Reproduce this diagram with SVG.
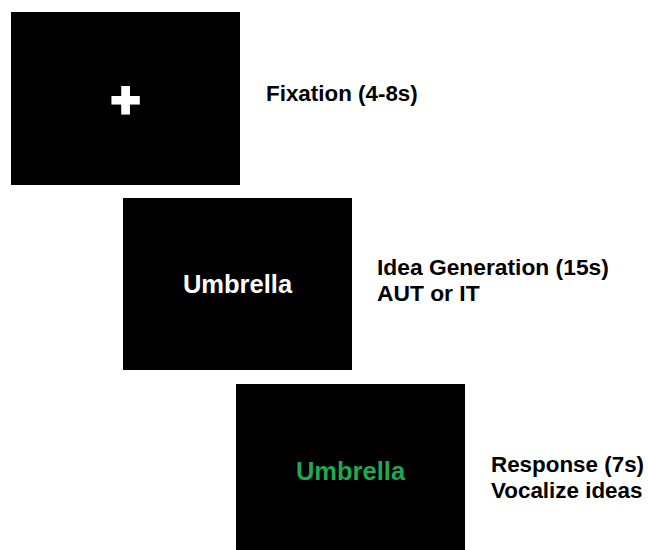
<svg xmlns="http://www.w3.org/2000/svg" width="648" height="550" viewBox="0 0 648 550">
  <style>
    .screen { fill: #000000; }
    .label { font-family: "Liberation Sans", Arial, sans-serif; font-weight: bold; font-size: 22.4px; fill: #000000; }
    .label-wide { font-size: 22.8px; }
    .word { font-family: "Liberation Sans", Arial, sans-serif; font-weight: bold; font-size: 25.5px; text-anchor: middle; }
  </style>
  <rect width="648" height="550" fill="#ffffff"/>

  <!-- Screen 1: fixation cross -->
  <g id="fixation">
    <rect class="screen" x="11" y="12" width="229" height="173"/>
    <text x="125.5" y="117.4" font-family="Liberation Sans, Arial, sans-serif" font-weight="bold" font-size="50" text-anchor="middle" fill="#ffffff" stroke="#ffffff" stroke-width="3.2">+</text>
    <text class="label" x="266" y="100.5">Fixation (4-8s)</text>
  </g>

  <!-- Screen 2: idea generation -->
  <g id="idea-generation">
    <rect class="screen" x="123" y="198" width="229" height="172"/>
    <text class="word" x="237.5" y="293" fill="#ffffff">Umbrella</text>
    <text class="label label-wide" x="377" y="274.5">Idea Generation (15s)</text>
    <text class="label label-wide" x="377" y="301">AUT or IT</text>
  </g>

  <!-- Screen 3: response -->
  <g id="response">
    <rect class="screen" x="236" y="384" width="229" height="166"/>
    <text class="word" x="350.5" y="479.5" fill="#20a850">Umbrella</text>
    <text class="label" x="491" y="471.5">Response (7s)</text>
    <text class="label" x="491" y="497.5">Vocalize ideas</text>
  </g>

  <g id="connectors"/>
</svg>
